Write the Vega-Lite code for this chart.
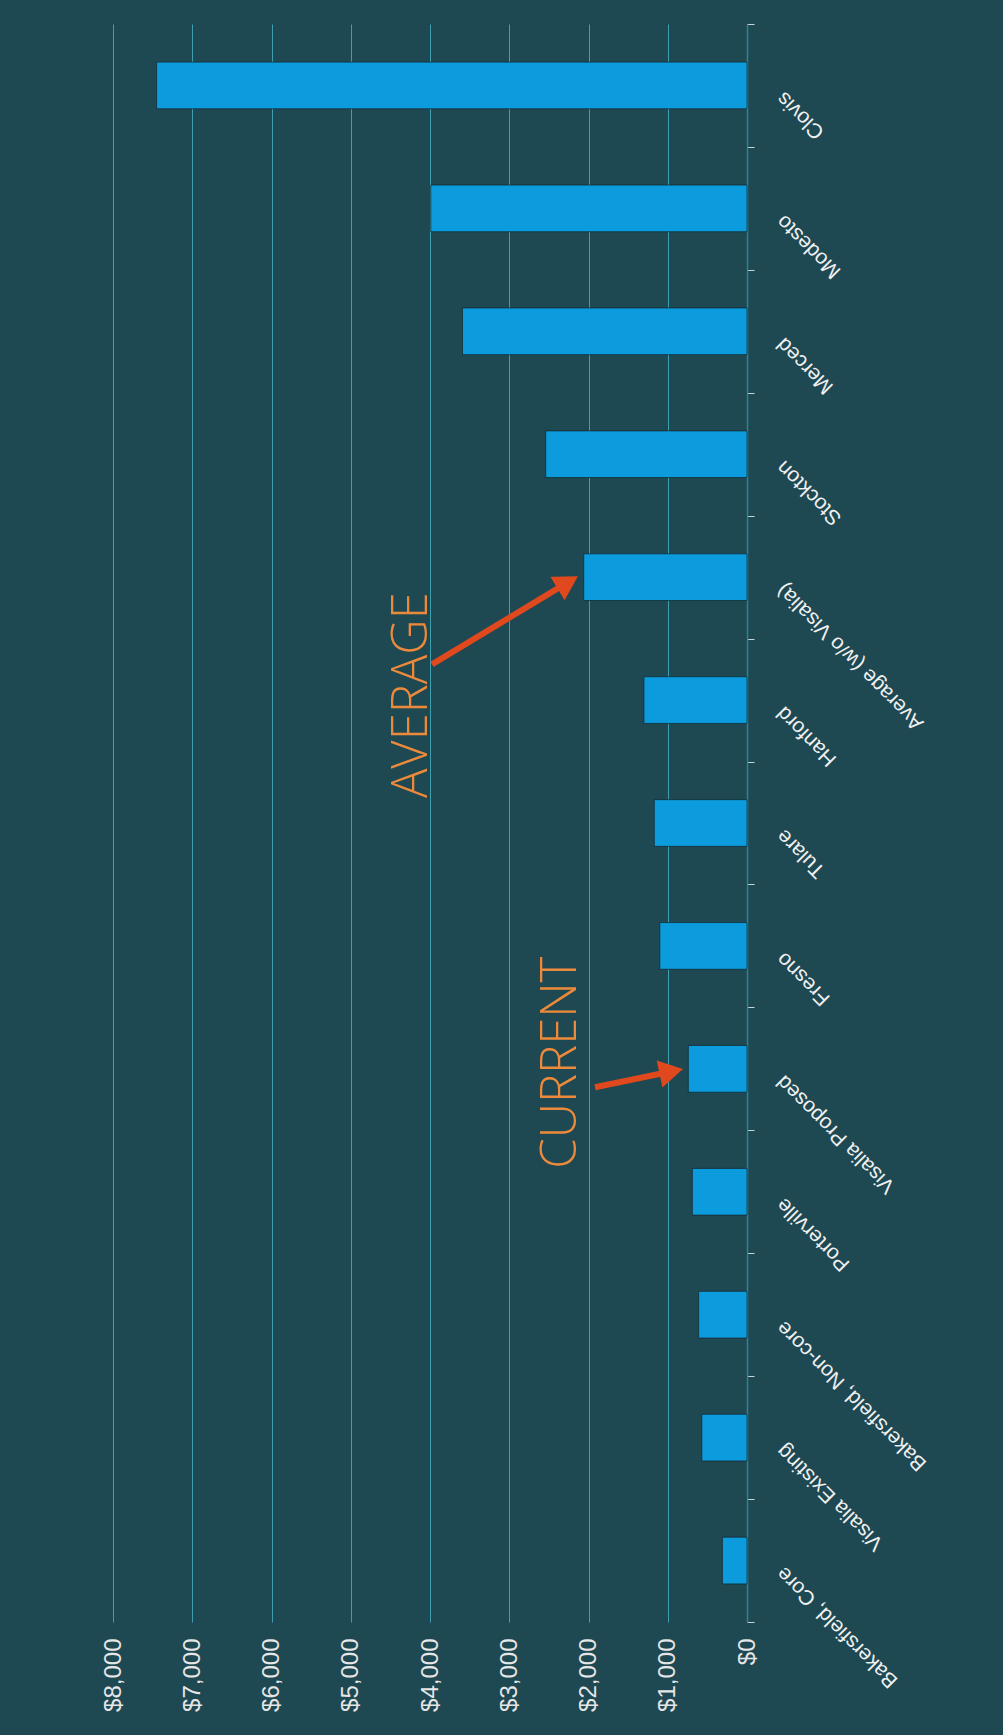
{
  "$schema": "https://vega.github.io/schema/vega-lite/v6.json",
  "autosize": {"type": "none"},
  "padding": {"left": 113, "top": 24, "right": 256, "bottom": 113},
  "width": 634,
  "height": 1598,
  "background": "#1e4852",
  "config": {
    "view": {"stroke": null},
    "font": "Liberation Sans"
  },
  "datasets": {
    "costs": [
      {"city": "Clovis", "fee": 7450},
      {"city": "Modesto", "fee": 3990},
      {"city": "Merced", "fee": 3590},
      {"city": "Stockton", "fee": 2540},
      {"city": "Average (w/o Visalia)", "fee": 2060},
      {"city": "Hanford", "fee": 1300},
      {"city": "Tulare", "fee": 1170},
      {"city": "Fresno", "fee": 1100},
      {"city": "Visalia Proposed", "fee": 740},
      {"city": "Porterville", "fee": 690},
      {"city": "Bakersfield, Non-core", "fee": 610},
      {"city": "Visalia Existing", "fee": 570},
      {"city": "Bakersfield, Core", "fee": 310}
    ],
    "notes": [
      {"label": "AVERAGE", "fee": 4230, "slot": 5.46},
      {"label": "CURRENT", "fee": 2350, "slot": 8.45}
    ],
    "arrows": [
      {"label": "AVERAGE", "fromFee": 3975, "fromSlot": 5.21, "toFee": 2262, "toSlot": 4.542},
      {"label": "CURRENT", "fromFee": 1918, "fromSlot": 8.65, "toFee": 956, "toSlot": 8.522}
    ]
  },
  "layer": [
    {
      "data": {"name": "costs"},
      "mark": {"type": "bar", "color": "#0c9bdc", "stroke": "#13252b", "strokeWidth": 1, "strokeOpacity": 0.7, "height": {"band": 0.38}},
      "encoding": {
        "y": {
          "field": "city",
          "type": "nominal",
          "sort": null,
          "scale": {"paddingInner": 0, "paddingOuter": 0},
          "axis": {
            "orient": "right",
            "title": null,
            "domain": true,
            "domainColor": "#2f8494",
            "domainWidth": 1.5,
            "ticks": true,
            "tickBand": "extent",
            "tickColor": "#c9d3d6",
            "tickSize": 7,
            "labelAngle": -135,
            "labelAlign": "right",
            "labelBaseline": "middle",
            "labelPadding": 26,
            "labelOffset": 9,
            "labelFontSize": 21,
            "labelColor": "#f0f0f0",
            "labelOverlap": false,
            "labelLimit": 400,
            "grid": false
          }
        },
        "x": {
          "field": "fee",
          "type": "quantitative",
          "scale": {"domain": [0, 8000], "reverse": true, "nice": false},
          "axis": {
            "orient": "bottom",
            "title": null,
            "values": [0, 1000, 2000, 3000, 4000, 5000, 6000, 7000, 8000],
            "format": "$,.0f",
            "domain": false,
            "ticks": false,
            "grid": true,
            "gridColor": "#3f9fae",
            "gridWidth": 1,
            "labelAngle": -90,
            "labelAlign": "right",
            "labelBaseline": "middle",
            "labelPadding": 16,
            "labelFontSize": 24,
            "labelColor": "#e6e6e6",
            "labelFlush": false,
            "labelOverlap": false
          }
        }
      }
    },
    {
      "layer": [
        {
          "data": {"name": "arrows"},
          "mark": {"type": "rule", "color": "#e0481e", "strokeWidth": 6},
          "encoding": {
            "x": {"field": "fromFee", "type": "quantitative"},
            "x2": {"field": "toFee"},
            "y": {"field": "fromSlot", "type": "quantitative", "scale": {"domain": [0, 13], "reverse": true, "nice": false, "zero": false}, "axis": null},
            "y2": {"field": "toSlot"}
          }
        },
        {
          "data": {"name": "arrows"},
          "transform": [{"filter": "datum.label === 'AVERAGE'"}],
          "mark": {"type": "point", "shape": "triangle-right", "filled": true, "color": "#e0481e", "opacity": 1, "size": 760, "angle": -31},
          "encoding": {
            "x": {"field": "toFee", "type": "quantitative"},
            "y": {"field": "toSlot", "type": "quantitative"}
          }
        },
        {
          "data": {"name": "arrows"},
          "transform": [{"filter": "datum.label === 'CURRENT'"}],
          "mark": {"type": "point", "shape": "triangle-right", "filled": true, "color": "#e0481e", "opacity": 1, "size": 760, "angle": -12},
          "encoding": {
            "x": {"field": "toFee", "type": "quantitative"},
            "y": {"field": "toSlot", "type": "quantitative"}
          }
        },
        {
          "data": {"name": "notes"},
          "mark": {"type": "text", "angle": 270, "align": "center", "baseline": "middle", "font": "Open Sans", "fontWeight": 300, "fontSize": 49, "color": "#ec8a3c"},
          "encoding": {
            "x": {"field": "fee", "type": "quantitative"},
            "y": {"field": "slot", "type": "quantitative"},
            "text": {"field": "label"}
          }
        }
      ]
    }
  ],
  "resolve": {"scale": {"y": "independent"}, "axis": {"y": "independent"}}
}
